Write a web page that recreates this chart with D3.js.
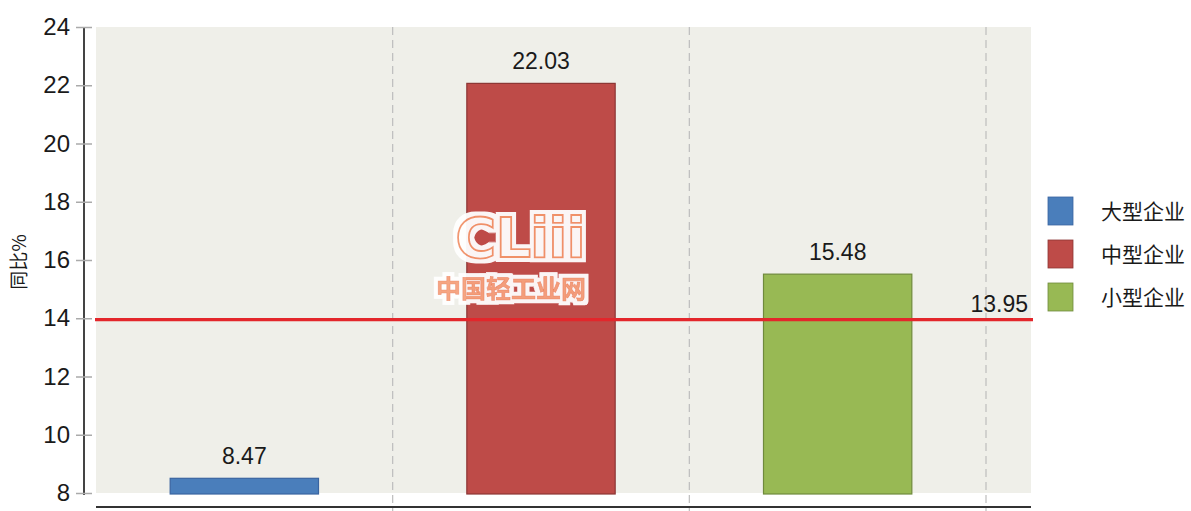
<!DOCTYPE html>
<html>
<head>
<meta charset="utf-8">
<script src="https://cdn.jsdelivr.net/npm/d3@7"></script>
<style>
  html, body { margin: 0; padding: 0; background: #fff; }
  svg { display: block; }
</style>
</head>
<body>
<svg id="chart" width="1191" height="511"></svg>
<script>
const categories = ["大型企业", "中型企业", "小型企业"];
const values = [8.47, 22.03, 15.48];
const seriesColors = ["#4a7ebb", "#be4b48", "#98b954"];
const strokeColors = ["#3a64a0", "#8c3634", "#6f8a3c"];
const averageValue = 13.95;
const yTicks = [8, 10, 12, 14, 16, 18, 20, 22, 24];
const yTitle = "同比%";

const svg = d3.select("#chart");
const plotLeft = 96, plotRight = 1031, plotTop = 27, plotBottom = 493;

const x = d3.scaleBand().domain(categories).range([plotLeft, 986]).paddingInner(0.5).paddingOuter(0.25);
const y = d3.scaleLinear().domain([8, 24]).range([plotBottom, plotTop]);

const numFont = "'Liberation Sans', Arial, sans-serif";
const cjkFont = "'Noto Sans CJK SC', 'Noto Sans', sans-serif";

// halo filter for watermark
const defs = svg.append("defs");
const f = defs.append("filter").attr("id", "halo").attr("x", "-20%").attr("y", "-40%").attr("width", "140%").attr("height", "180%");
f.append("feMorphology").attr("in", "SourceAlpha").attr("operator", "dilate").attr("radius", 3.5).attr("result", "d");
f.append("feFlood").attr("flood-color", "#ffffff").attr("result", "w");
f.append("feComposite").attr("in", "w").attr("in2", "d").attr("operator", "in").attr("result", "h");
const fm = f.append("feMerge");
fm.append("feMergeNode").attr("in", "h");
fm.append("feMergeNode").attr("in", "SourceGraphic");

// plot background
svg.append("rect").attr("x", plotLeft).attr("y", plotTop)
  .attr("width", plotRight - plotLeft).attr("height", plotBottom - plotTop)
  .attr("fill", "#efefe9");

// vertical dashed separators
const step = x.step();
const seps = d3.range(1, categories.length + 1).map(i => x.range()[0] + step * i);
svg.selectAll("line.sep").data(seps).enter().append("line")
  .attr("x1", d => d).attr("x2", d => d)
  .attr("y1", plotTop).attr("y2", plotBottom + 20)
  .attr("stroke", "#bdbdbd").attr("stroke-width", 1.2)
  .attr("stroke-dasharray", "8,5");

// y axis
const yAxis = d3.axisLeft(y).tickValues(yTicks).tickSize(8).tickPadding(6).tickFormat(d3.format("d"));
const gy = svg.append("g").attr("transform", "translate(84,0)").call(yAxis);
gy.select(".domain").attr("stroke", "#444").attr("stroke-width", 2)
  .attr("d", `M0,${plotTop}V${plotBottom + 2}`);
gy.selectAll(".tick line").attr("stroke", "#aaa").attr("stroke-width", 1.5).attr("x2", 8).attr("x1", -8);
gy.selectAll(".tick text").attr("font-family", numFont).attr("font-size", 24).attr("fill", "#1a1a1a")
  .attr("x", -14);

// bottom axis line
svg.append("line").attr("x1", plotLeft).attr("x2", plotRight).attr("y1", 507).attr("y2", 507)
  .attr("stroke", "#333").attr("stroke-width", 2);

// y title
svg.append("text").attr("transform", "translate(26,262) rotate(-90)")
  .attr("text-anchor", "middle").attr("font-family", cjkFont).attr("font-size", 19)
  .attr("fill", "#1a1a1a").text(yTitle);

// bars
svg.selectAll("rect.bar").data(values).enter().append("rect")
  .attr("x", (d, i) => x(categories[i]))
  .attr("width", x.bandwidth())
  .attr("y", d => y(d) - 1)
  .attr("height", d => y(8) - y(d) + 2)
  .attr("fill", (d, i) => seriesColors[i])
  .attr("stroke", (d, i) => strokeColors[i]).attr("stroke-width", 1.2);

// bar labels
svg.selectAll("text.bl").data(values).enter().append("text")
  .attr("x", (d, i) => x(categories[i]) + x.bandwidth() / 2)
  .attr("y", d => y(d) - 15)
  .attr("text-anchor", "middle").attr("font-family", numFont).attr("font-size", 23)
  .attr("fill", "#1a1a1a").text(d => d.toFixed(2));

// average line
svg.append("line").attr("x1", plotLeft - 1).attr("x2", plotRight + 2)
  .attr("y1", y(averageValue)).attr("y2", y(averageValue))
  .attr("stroke", "#e3262b").attr("stroke-width", 3.2);
svg.append("text").attr("x", 1028).attr("y", y(averageValue) - 8)
  .attr("text-anchor", "end").attr("font-family", numFont).attr("font-size", 23)
  .attr("fill", "#1a1a1a").text(averageValue.toFixed(2));

// watermark
const wm = svg.append("g").attr("opacity", 0.95);
wm.append("text").attr("x", 520).attr("y", 257).attr("text-anchor", "middle")
  .attr("font-family", "'DejaVu Sans', sans-serif").attr("font-weight", "bold").attr("font-size", 56)
  .attr("letter-spacing", -1).attr("filter", "url(#halo)")
  .attr("fill", "#fff").attr("stroke", "#f3946a").attr("stroke-width", 1.8)
  .text("CLiii");
wm.append("text").attr("x", 511).attr("y", 298).attr("text-anchor", "middle")
  .attr("font-family", cjkFont).attr("font-weight", "bold").attr("font-size", 25)
  .attr("filter", "url(#halo)")
  .attr("fill", "#f6a27e").attr("stroke", "#f08a60").attr("stroke-width", 0.6)
  .text("中国轻工业网");

// legend
const lg = svg.append("g");
categories.forEach((c, i) => {
  const yy = 197 + i * 43;
  lg.append("rect").attr("x", 1048).attr("y", yy).attr("width", 25).attr("height", 28)
    .attr("fill", seriesColors[i]).attr("stroke", strokeColors[i]).attr("stroke-width", 0.8);
  lg.append("text").attr("x", 1101).attr("y", yy + 22).attr("font-family", cjkFont)
    .attr("font-size", 21).attr("fill", "#1a1a1a").text(c);
});
</script>
</body>
</html>
